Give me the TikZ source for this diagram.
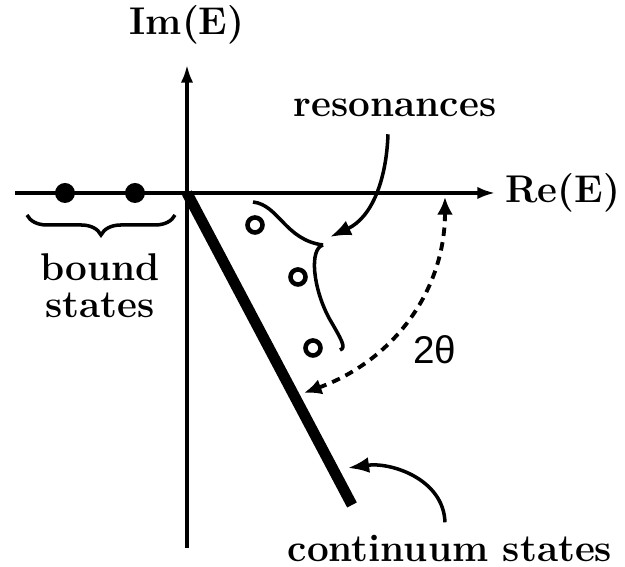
\documentclass[tikz,border=0pt]{standalone}
\usepackage{fontspec}
\newfontfamily\anglefont{Liberation Sans}
\usepackage{tikz}
\usetikzlibrary{arrows.meta,positioning,decorations.pathreplacing}

\begin{document}
\begin{tikzpicture}[
  font=\fontsize{11}{13}\selectfont\bfseries,
  axis/.style={line width=0.9pt},
  boundpt/.style={circle, fill=black, inner sep=0pt, minimum size=0.2cm},
  resonpt/.style={circle, draw=black, line width=1.3pt, inner sep=0pt, minimum size=0.15cm},
  pointer/.style={line width=1pt, -{Latex[length=6pt,width=4.5pt]}},
  contline/.style={line width=3.1pt},
  anglearc/.style={line width=1.1pt, dash pattern=on 2.4pt off 1.8pt,
    {Latex[length=5pt,width=4.5pt]}-{Latex[length=5pt,width=4.5pt]}}
]
\useasboundingbox (-1.87,-3.74) rectangle (4.38,1.93);
% axes
\coordinate (O) at (0,0);
\coordinate (xl) at (-1.72,0);
\coordinate (xr) at (3.08,0);
\coordinate (yb) at (0,-3.55);
\coordinate (yt) at (0,1.28);
\draw[axis,-{Latex[length=5pt,width=3.5pt]}] (xl) -- (xr);
\draw[axis,-{Latex[length=5pt,width=3.5pt]}] (yb) -- (yt);
\node (im) at (0,1.68) {Im(E)};
\node[right=-0.02cm of xr] (re) {Re(E)};
% bound states
\node[boundpt] (b1) at (-1.22,0) {};
\node[boundpt] (b2) at (-0.52,0) {};
\draw[line width=1pt, decorate, decoration={brace, amplitude=0.2cm, mirror}]
  (-1.60,-0.22) -- (-0.12,-0.22);
\node[align=center, font=\fontsize{11}{10.6}\selectfont\bfseries] (bs) at (-0.87,-0.93) {bound\\states};
% resonances
\node[resonpt] (r1) at (0.68,-0.32) {};
\node[resonpt] (r2) at (1.11,-0.84) {};
\node[resonpt] (r3) at (1.26,-1.55) {};
\draw[line width=1pt] (0.66,-0.09) .. controls (0.92,-0.12) and (0.98,-0.47) .. (1.36,-0.52);
\draw[line width=1pt] (1.36,-0.52) .. controls (1.22,-0.56) and (1.26,-0.95) .. (1.42,-1.25)
  .. controls (1.54,-1.46) and (1.60,-1.55) .. (1.53,-1.57);
\coordinate (cusp) at (1.43,-0.44);
\node (res) at (2.08,0.85) {resonances};
\draw[pointer] ([shift={(-0.07,-0.05)}]res.south) to[out=-92, in=25] (cusp);
% continuum
\coordinate (cend) at (1.65,-3.12);
\draw[contline] (O) -- (cend);
\node (cs) at (2.63,-3.55) {continuum states};
\coordinate (ctip) at (1.61,-2.75);
\draw[pointer] ([xshift=-0.05cm]cs.north) to[out=92, in=8] (ctip);
% angle
\coordinate (atop) at (2.58,-0.04);
\coordinate (abot) at (1.17,-2.00);
\draw[anglearc] (atop) to[out=-90, in=20] (abot);
\node[font=\anglefont\fontsize{11}{13}\selectfont] (th) at (2.48,-1.57) {2θ};
\end{tikzpicture}
\end{document}
